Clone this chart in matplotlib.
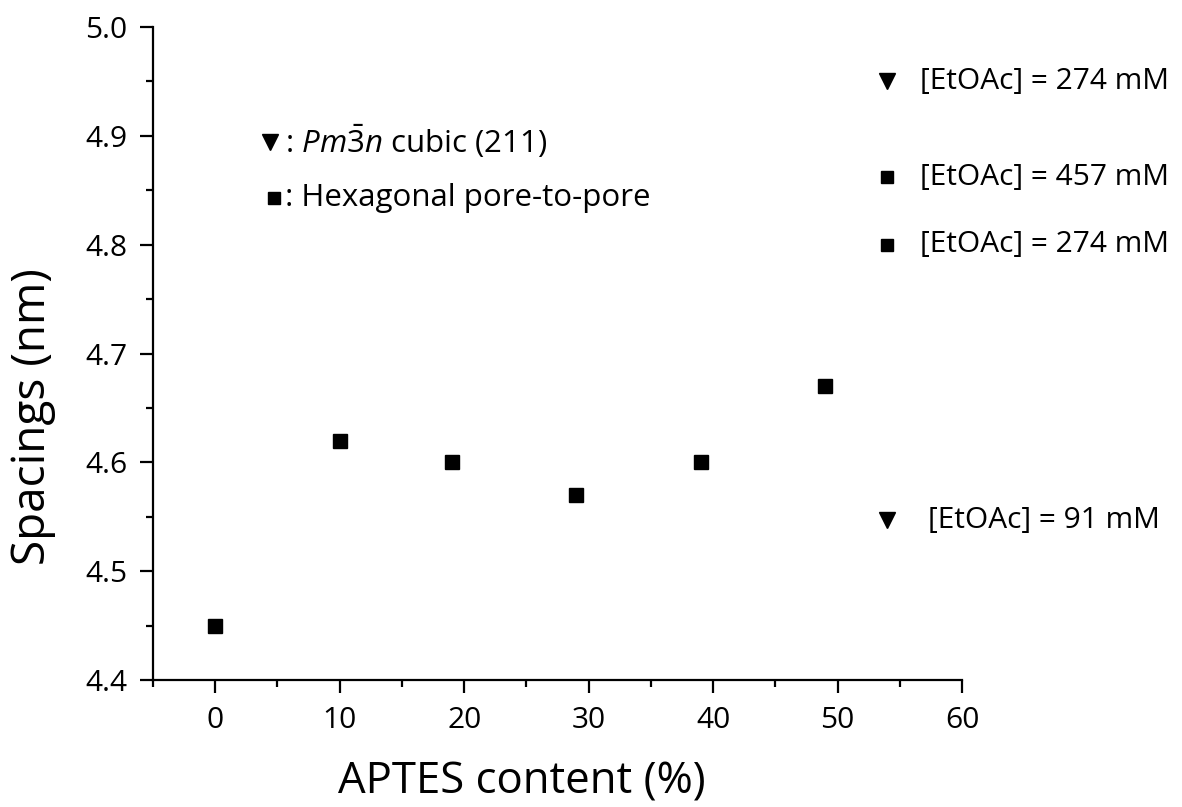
import matplotlib
matplotlib.use("Agg")
import matplotlib.pyplot as plt
from matplotlib.ticker import MultipleLocator

plt.rcParams["font.family"] = ["Open Sans", "DejaVu Sans"]
plt.rcParams["mathtext.fontset"] = "custom"
plt.rcParams["mathtext.rm"] = "Open Sans"
plt.rcParams["mathtext.it"] = "Open Sans:italic"

# hexagonal pore-to-pore spacings
aptes = [0, 10, 19, 29, 39, 49]
spacing = [4.45, 4.62, 4.60, 4.57, 4.60, 4.67]

# side notes on the right (marker, note position, text)
note_marker = ["v", "s", "s", "v"]
note_y = [4.95, 4.862, 4.80, 4.547]
note_x = [54.0, 54.0, 54.0, 54.0]
note_text_x = [56.6, 56.6, 56.6, 57.25]
note_text = ["[EtOAc] = 274 mM", "[EtOAc] = 457 mM",
             "[EtOAc] = 274 mM", "[EtOAc] = 91 mM"]

# key in the upper left
key_marker = ["v", "s"]
key_text = [r" : $Pm\bar{\mathrm{3}}n$ cubic (211)", " : Hexagonal pore-to-pore"]

fig = plt.figure(figsize=(11.82, 8.07), dpi=100)
ax = fig.add_axes([0.1294, 0.1574, 0.6845, 0.8091])

ax.plot(aptes, spacing, "s", color="black", markersize=9.5, linestyle="none")

for m, x, y, tx, t in zip(note_marker, note_x, note_y, note_text_x, note_text):
    ms = 11.5 if m == "v" else 9
    ax.plot(x, y, m, color="black", markersize=ms, clip_on=False)
    ax.text(tx, y, t, fontsize=21.5, va="center", ha="left", clip_on=False)

key_y = [0.824, 0.738]
key_x = [0.1446, 0.1496]
for m, kx, ky, t in zip(key_marker, key_x, key_y, key_text):
    ms = 11 if m == "v" else 8.5
    ax.plot(kx, ky, m, color="black", markersize=ms, transform=ax.transAxes)
    ax.text(0.153, ky, t, fontsize=22.5, va="center", ha="left",
            transform=ax.transAxes)

ax.set_xlim(-5, 60)
ax.set_ylim(4.4, 5.0)
ax.xaxis.set_major_locator(MultipleLocator(10))
ax.xaxis.set_minor_locator(MultipleLocator(5))
ax.yaxis.set_major_locator(MultipleLocator(0.1))
ax.yaxis.set_minor_locator(MultipleLocator(0.05))
ax.yaxis.set_major_formatter(matplotlib.ticker.FormatStrFormatter("%.1f"))

ax.spines["top"].set_visible(False)
ax.spines["right"].set_visible(False)
ax.spines["left"].set_linewidth(1.6)
ax.spines["bottom"].set_linewidth(1.6)
ax.tick_params(which="major", direction="out", length=9.5, width=1.6,
               labelsize=21.5, pad=9)
ax.tick_params(which="minor", direction="out", length=5, width=1.6)

ax.set_xlabel("APTES content (%)", fontsize=31.5, labelpad=18)
ax.set_ylabel("Spacings (nm)", fontsize=33, labelpad=21)
ax.xaxis.label.set_x(0.456)
ax.yaxis.label.set_y(0.403)

fig.savefig("out.png", dpi=100)
